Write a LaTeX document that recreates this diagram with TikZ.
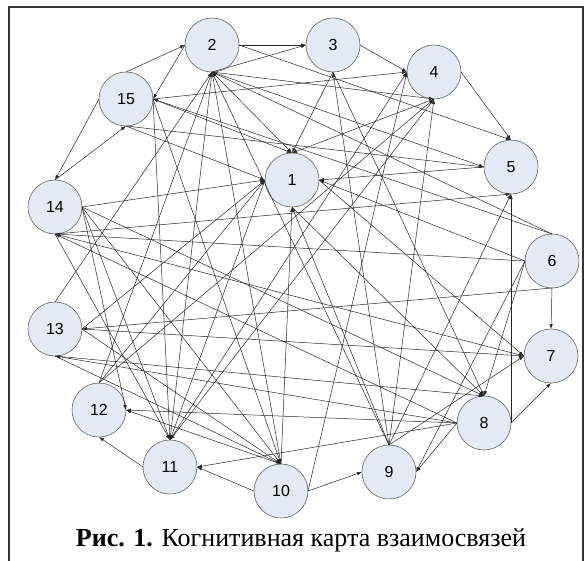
\documentclass[tikz,border=0pt]{standalone}
\usepackage{fontspec}
\setmainfont{Liberation Serif}
\newfontfamily\arialf{Liberation Sans}
\usetikzlibrary{arrows.meta}
\definecolor{nodefill}{HTML}{E3E9F5}
\begin{document}
\begin{tikzpicture}[x=1pt,y=-1pt,
  cnode/.style={circle,draw=black!60,fill=nodefill,line width=0.6pt,minimum size=54pt,inner sep=0pt,outer sep=0pt,font=\arialf\fontsize{16}{16}\selectfont},
  conn/.style={line width=0.5pt,draw=black!85,-{Latex[length=5pt,width=3.5pt]}},
  frameline/.style={line width=1.4pt,draw=black!80}]
\useasboundingbox (0,0) rectangle (585,560);
\draw[frameline] (9,575) -- (9,7) -- (583,7) -- (583,575);
\node[cnode] (n1) at (292,180) {1};
\node[cnode] (n2) at (212,45) {2};
\node[cnode] (n3) at (333,45) {3};
\node[cnode] (n4) at (434,72) {4};
\node[cnode] (n5) at (511,167) {5};
\node[cnode] (n6) at (552,261) {6};
\node[cnode] (n7) at (551,356) {7};
\node[cnode] (n8) at (484,423) {8};
\node[cnode] (n9) at (389,472) {9};
\node[cnode] (n10) at (281,491) {10};
\node[cnode] (n11) at (170,467) {11};
\node[cnode] (n12) at (99,410) {12};
\node[cnode] (n13) at (55,329) {13};
\node[cnode] (n14) at (55,207) {14};
\node[cnode] (n15) at (126,99) {15};
\foreach \a/\b in {
  n2.east/n3.west, n3.east/n4.west, n4.east/n5.north, n15.north/n2.west,
  n15.west/n14.north, n14.north/n15.south, n6.south/n7.north, n8.east/n7.south,
  n8.east/n5.south, n10.east/n9.west, n10.west/n11.east, n11.west/n12.south,
  n8.west/n9.east,
  n5.west/n1.east, n6.west/n1.east, n14.east/n1.west, n15.south/n1.west,
  n13.east/n1.west, n12.north/n1.west, n2.south/n1.north, n3.south/n1.north,
  n4.south/n1.north, n15.east/n1.north, n10.north/n1.south, n9.north/n1.south,
  n1.south/n8.north, n1.east/n7.west,
  n2.west/n15.east, n2.south/n3.west, n2.south/n4.south, n2.east/n5.north,
  n2.south/n5.west, n6.north/n2.south, n13.north/n2.south, n12.north/n2.south,
  n2.south/n11.north, n2.south/n10.north, n9.north/n2.south,
  n15.east/n4.west, n15.south/n5.west, n6.north/n15.east, n15.east/n11.north,
  n15.east/n10.north,
  n3.south/n8.north, n9.north/n3.south, n4.south/n11.north, n12.north/n4.south,
  n10.east/n4.west, n9.north/n4.south, n9.north/n5.south, n14.south/n5.south,
  n6.west/n8.north, n6.west/n9.east, n9.north/n7.west, n14.south/n7.west,
  n13.east/n7.west, n6.west/n14.south, n6.south/n13.east,
  n8.west/n13.south, n8.west/n12.east, n8.west/n11.east, n8.west/n14.south,
  n10.north/n12.east, n14.east/n12.east, n14.east/n11.north, n14.east/n10.north,
  n14.east/n8.north, n13.east/n10.north, n13.south/n10.north, n13.south/n8.north,
  n14.south/n11.north, n11.north/n4.west, n1.west/n11.north}
  \draw[conn] (\a) -- (\b);
\node[anchor=base,font=\fontsize{26}{26}\selectfont] (cap) at (301,546) {\textbf{Рис. 1.} Когнитивная карта взаимосвязей};
\end{tikzpicture}
\end{document}
